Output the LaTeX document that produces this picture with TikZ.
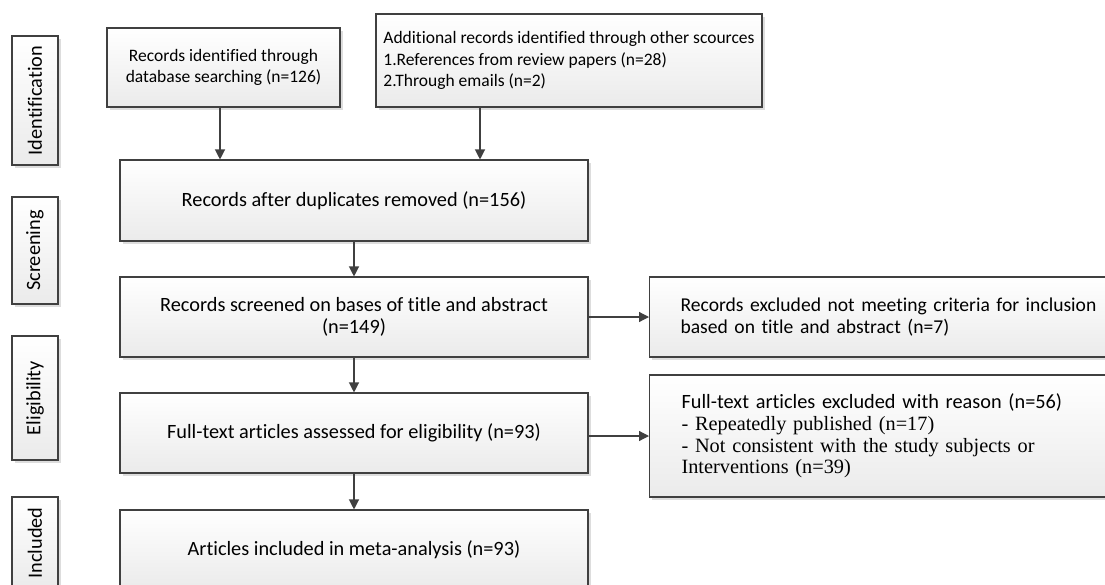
\documentclass[tikz,border=0pt]{standalone}
\usepackage{fontspec}
\usepackage{graphicx}
\setmainfont{Carlito}[RawFeature={-liga;-clig;-dlig}]
\newfontfamily\tnr{Liberation Serif}
\usetikzlibrary{arrows.meta,shadows}
\tikzset{
  box/.style={draw=black!75, line width=1.1pt, top color=white, bottom color=black!8,
    drop shadow={shadow xshift=2.5pt, shadow yshift=-2.5pt, opacity=0.22, fill=black!60},
    inner sep=0pt, align=center, font=\fontsize{20.3}{22.5}\selectfont},
  sidebox/.style={box, minimum width=46pt},
  conn/.style={draw=black!75, line width=1.2pt, -{Triangle[length=10pt,width=10pt]}},
}
\begin{document}
\begin{tikzpicture}[x=1pt,y=-1pt]
\useasboundingbox (0,0) rectangle (1105,584);
\clip (0,0) rectangle (1105,584);
% side labels
\node[sidebox, minimum height=129pt] (lid) at (35,100.5) {\rotatebox{90}{Identification}};
\node[sidebox, minimum height=107pt] (lsc) at (35,250.5) {\rotatebox{90}{Screening}};
\node[sidebox, minimum height=124pt] (lel) at (35,398) {\rotatebox{90}{Eligibility}};
\node[sidebox, minimum height=92pt] (lin) at (35,543) {\rotatebox{90}{Included}};
% main boxes
\node[box, minimum width=233pt, minimum height=79pt, font=\fontsize{17.5}{21}\selectfont] (b1) at (223.5,67.5)
  {Records identified through\\database searching (n=126)};
\node[box, minimum width=386pt, minimum height=93pt, align=left, font=\fontsize{17.5}{21.5}\selectfont] (b2) at (569,60.5)
  {Additional records identified through other scources\\1.References from review papers (n=28)\\2.Through emails (n=2)};
\node[box, minimum width=468pt, minimum height=81pt] (b3) at (354,200.5)
  {Records after duplicates removed (n=156)};
\node[box, minimum width=468pt, minimum height=80pt] (b4) at (354,317)
  {Records screened on bases of title and abstract\\(n=149)};
\node[box, anchor=west, minimum height=80pt, inner xsep=31pt, text width=450pt, align=left,
  font=\fontsize{19.6}{22.5}\selectfont] (b5) at (649,317)
  {Records excluded not meeting criteria for inclusion\\based on title and abstract (n=7)};
\node[box, minimum width=468pt, minimum height=80pt] (b6) at (354,433)
  {Full-text articles assessed for eligibility (n=93)};
\node[box, anchor=west, minimum height=122pt, inner xsep=32pt, text width=450pt, align=left,
  font=\fontsize{20.3}{21.8}\selectfont] (b7) at (649,436)
  {Full-text articles excluded with reason (n=56)\\
   {\tnr - Repeatedly published (n=17)}\\
   {\tnr - Not consistent with the study subjects or}\\
   {\tnr Interventions (n=39)}};
\node[box, minimum width=468pt, minimum height=80pt] (b8) at (354,550)
  {Articles included in meta-analysis (n=93)};
% connectors
\draw[conn] ([xshift=-3.5pt]b1.south) -- ([xshift=-3.5pt]b1.south |- b3.north);
\draw[conn] ([xshift=-89pt]b2.south) -- ([xshift=-89pt]b2.south |- b3.north);
\draw[conn] (b3.south) -- (b4.north);
\draw[conn] (b4.east) -- (b4.east -| b5.west);
\draw[conn] (b4.south) -- (b6.north);
\draw[conn] ([yshift=-3pt]b6.east) -- ([yshift=-3pt]b6.east -| b7.west);
\draw[conn] (b6.south) -- (b8.north);
\end{tikzpicture}
\end{document}
